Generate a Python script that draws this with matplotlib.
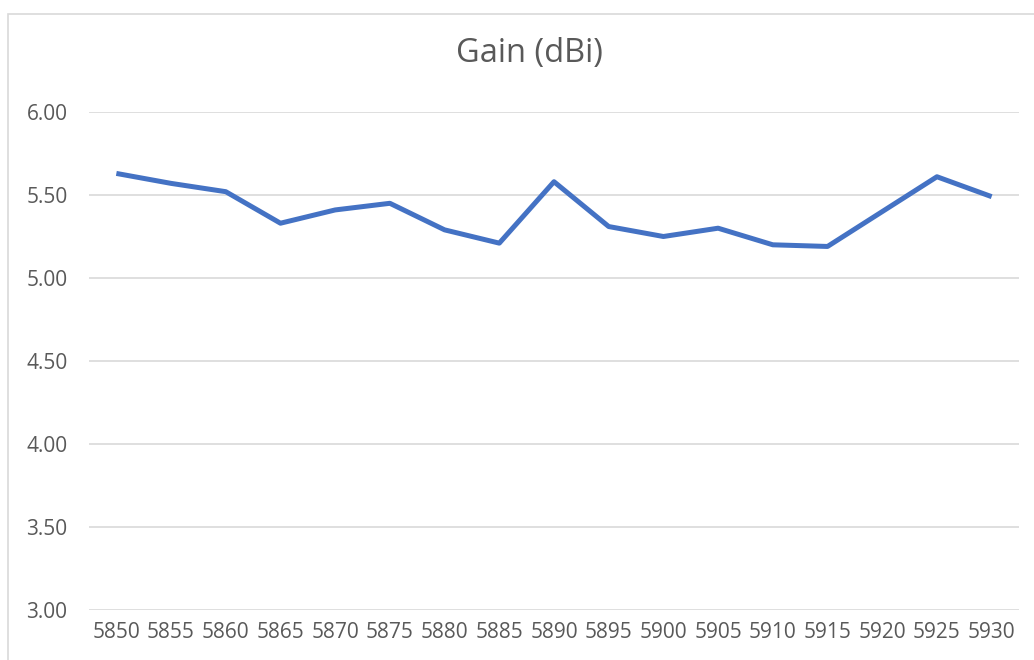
import matplotlib
matplotlib.use("Agg")
import matplotlib.pyplot as plt
from matplotlib.patches import Rectangle

frequencies = ["5850", "5855", "5860", "5865", "5870", "5875", "5880", "5885", "5890",
               "5895", "5900", "5905", "5910", "5915", "5920", "5925", "5930"]
gain_dbi = [5.63, 5.57, 5.52, 5.33, 5.41, 5.45, 5.29, 5.21, 5.58,
            5.31, 5.25, 5.30, 5.20, 5.19, 5.40, 5.61, 5.49]
y_ticks = [3.0, 3.5, 4.0, 4.5, 5.0, 5.5, 6.0]

plt.rcParams['font.family'] = ['Open Sans', 'DejaVu Sans']

fig = plt.figure(figsize=(10.34, 6.6), dpi=100)
fig.patch.set_facecolor('white')
# chart-area border
fig.add_artist(Rectangle((8/1034, -0.05), 1.1, 1 - 14/660 + 0.05, transform=fig.transFigure,
                         fill=False, edgecolor='#D9D9D9', linewidth=1.2))

ax = fig.add_axes([89/1034, 1 - 610/660, (1019 - 89)/1034, (610 - 112)/660])
x = list(range(len(frequencies)))
ax.plot(x, gain_dbi, color='#4472C4', linewidth=3.6, solid_joinstyle='round', solid_capstyle='butt', zorder=3)

ax.set_xlim(-0.5, len(frequencies) - 0.5)
ax.set_ylim(3.0, 6.0)
ax.set_yticks(y_ticks)
ax.set_yticklabels([f"{v:.2f}" for v in y_ticks])
ax.set_xticks(x)
ax.set_xticklabels(frequencies)

ax.grid(axis='y', color='#D9D9D9', linewidth=1.2)
ax.set_axisbelow(True)
for s in ax.spines.values():
    s.set_visible(False)
ax.tick_params(axis='both', length=0, colors='#595959', labelsize=15)
ax.tick_params(axis='y', pad=15.5)
ax.tick_params(axis='x', pad=9)

fig.text(529/1034, 1 - 62/660, "Gain (dBi)", ha='center', va='baseline', fontsize=23.5, color='#595959')

fig.savefig("out.png", dpi=100)
